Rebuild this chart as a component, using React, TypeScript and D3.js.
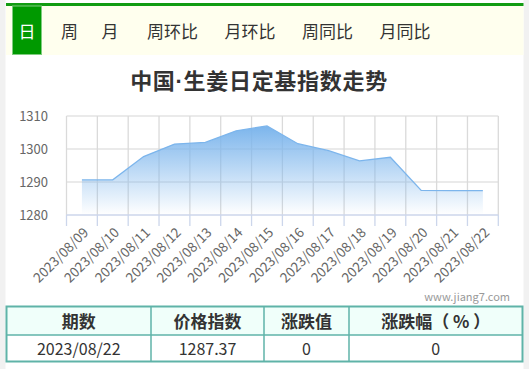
import React from "react";
import * as d3 from "d3";

const tabs = ["日", "周", "月", "周环比", "月环比", "周同比", "月同比"];
const tabX = [27, 69.5, 110, 172.5, 250, 327.5, 405];
const titleA = "中国";
const titleDot = "·";
const titleB = "生姜日定基指数走势";
const dates = [
  "2023/08/09", "2023/08/10", "2023/08/11", "2023/08/12", "2023/08/13", "2023/08/14", "2023/08/15",
  "2023/08/16", "2023/08/17", "2023/08/18", "2023/08/19", "2023/08/20", "2023/08/21", "2023/08/22",
];
const values = [
  1290.64, 1290.64, 1297.7, 1301.5, 1302.0, 1305.5, 1307.0,
  1301.6, 1299.5, 1296.4, 1297.5, 1287.45, 1287.40, 1287.37,
];
const yTicks = [1280, 1290, 1300, 1310];
const tableHeaders = ["期数", "价格指数", "涨跌值", "涨跌幅（ % ）"];
const tableRow = ["2023/08/22", "1287.37", "0", "0"];
const colEdges = [6.5, 151, 264, 349, 522.5];
const watermark = "www.jiang7.com";

const FONT = "'Microsoft YaHei', 'Noto Sans CJK SC', sans-serif";

export default function App() {
  const W = 529, H = 369;
  const x = d3.scaleBand<string>().domain(dates).range([66.5, 498.3]).padding(0);
  const y = d3.scaleLinear().domain([1280, 1310]).range([215, 116]);
  const cx = (d: string) => (x(d) as number) + x.bandwidth() / 2;
  const pts = dates.map((d, i) => ({ d, v: values[i] }));
  const line = d3.line<{ d: string; v: number }>().x((p) => cx(p.d)).y((p) => y(p.v));
  const area = d3.area<{ d: string; v: number }>().x((p) => cx(p.d)).y0(y(1280)).y1((p) => y(p.v));
  const edges = [...dates.map((d) => x(d) as number), 498.3];

  return (
    <div style={{ position: "fixed", left: 0, top: 0, width: W, height: H }}>
      <svg width={W} height={H} style={{ display: "block", fontFamily: FONT }}>
        <defs>
          <linearGradient id="ag" x1="0" y1="0" x2="0" y2="1">
            <stop offset="0" stopColor="#7cb5ec" stopOpacity={1} />
            <stop offset="1" stopColor="#7cb5ec" stopOpacity={0} />
          </linearGradient>
        </defs>
        <rect x={0} y={0} width={W} height={H} fill="#ffffff" />
        <rect x={0} y={0} width={5.5} height={H} fill="#f1f1f1" />
        <rect x={523.5} y={0} width={5.5} height={H} fill="#f1f1f1" />
        {/* top bar */}
        <rect x={6} y={3} width={517.5} height={3} fill="#129c12" />
        <rect x={6} y={6} width={517.5} height={49} fill="#ffffee" />
        <rect x={12.5} y={6} width={29} height={48.5} fill="#009900" stroke="#7fcc7f" strokeWidth={1} />
        {tabs.map((t, i) => (
          <text key={t} x={tabX[i]} y={32} dy="0.35em" textAnchor="middle" fontSize={17}
            fill={i === 0 ? "#ffffff" : "#333333"}>{t}</text>
        ))}
        {/* title */}
        <text x={259} y={81} dy="0.35em" textAnchor="middle" fontSize={22} fontWeight="bold" fill="#333333" letterSpacing={0.7}>
          {titleA}
          <tspan fontFamily="'Liberation Sans', Arial, sans-serif">{titleDot}</tspan>
          {titleB}
        </text>
        {/* grid */}
        {yTicks.slice(1).map((t) => (
          <line key={t} x1={66.5} x2={498.3} y1={y(t)} y2={y(t)} stroke="#e3e3e3" strokeWidth={1.3} />
        ))}
        {edges.map((e, i) => (
          <line key={i} x1={e} x2={e} y1={116} y2={215} stroke="#dadada" strokeWidth={1.3} />
        ))}
        {/* area */}
        <path d={area(pts) as string} fill="url(#ag)" />
        <path d={line(pts) as string} fill="none" stroke="#7cb5ec" strokeWidth={1.3} />
        {/* x axis */}
        <line x1={66.5} x2={498.3} y1={215} y2={215} stroke="#ccd6eb" strokeWidth={1.5} />
        {edges.map((e, i) => (
          <line key={"t" + i} x1={e} x2={e} y1={215} y2={226} stroke="#ccd6eb" strokeWidth={1.3} />
        ))}
        {yTicks.map((t) => (
          <text key={t} x={48} y={y(t)} dy="0.35em" textAnchor="end" fontSize={13} fill="#666666">{t}</text>
        ))}
        {dates.map((d) => (
          <text key={d} transform={`translate(${cx(d) + 4},${230}) rotate(-45)`} textAnchor="end"
            fontSize={13.6} fill="#666666" dy="0.35em">{d}</text>
        ))}
        <text x={510} y={297} dy="0.35em" textAnchor="end" fontSize={11} fill="#999999">{watermark}</text>
        {/* table */}
        <rect x={colEdges[0]} y={306.5} width={colEdges[4] - colEdges[0]} height={28.5} fill="#f0fffa" />
        <rect x={colEdges[0]} y={306.5} width={colEdges[4] - colEdges[0]} height={55} fill="none" stroke="#5fb3a8" strokeWidth={2} />
        <line x1={colEdges[0]} x2={colEdges[4]} y1={335} y2={335} stroke="#5fb3a8" strokeWidth={1.5} />
        {colEdges.slice(1, 4).map((e) => (
          <line key={e} x1={e} x2={e} y1={306.5} y2={361.5} stroke="#5fb3a8" strokeWidth={1.5} />
        ))}
        {tableHeaders.map((h, i) => (
          <text key={h} x={(colEdges[i] + colEdges[i + 1]) / 2} y={322} dy="0.35em" textAnchor="middle"
            fontSize={17} fontWeight="bold" fill="#333333">{h}</text>
        ))}
        {tableRow.map((h, i) => (
          <text key={i} x={(colEdges[i] + colEdges[i + 1]) / 2} y={349.5} dy="0.35em" textAnchor="middle"
            fontSize={16} fill="#333333">{h}</text>
        ))}
      </svg>
    </div>
  );
}
